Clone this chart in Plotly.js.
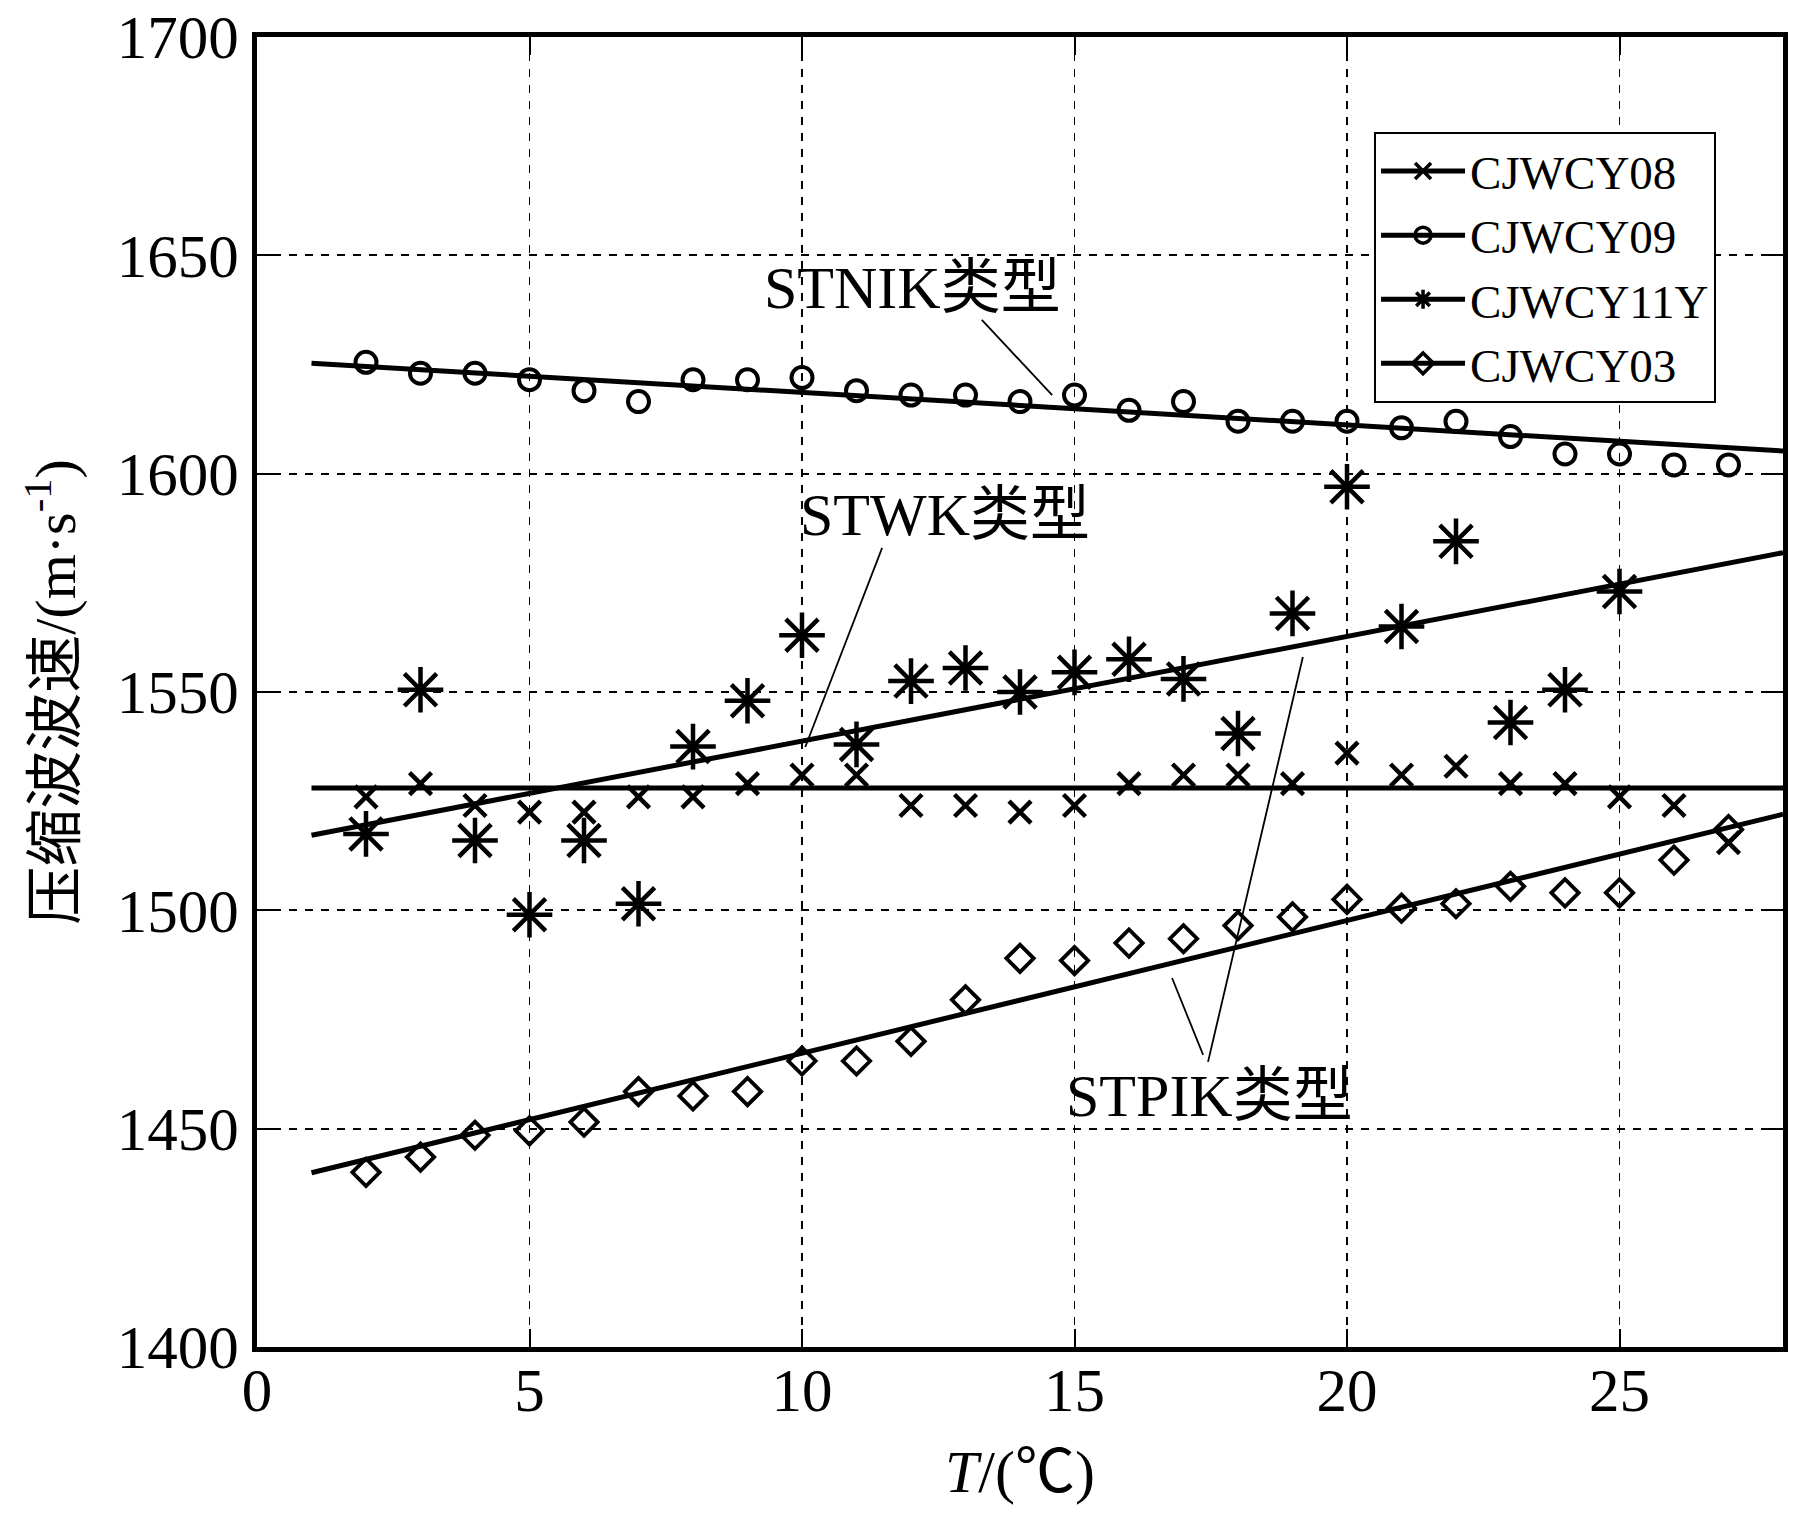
<!DOCTYPE html>
<html>
<head>
<meta charset="utf-8">
<script src="https://cdn.plot.ly/plotly-3.0.1.min.js"></script>
<style>html,body{margin:0;padding:0;background:#fff;}</style>
</head>
<body>
<div id="chart" style="width:1814px;height:1529px;"></div>
<script>
// ---- data ----
const temps08 = [2,3,4,5,6,7,8,9,10,11,12,13,14,15,16,17,18,19,20,21,22,23,24,25,26,27];
const cjwcy08 = [1526,1529,1524,1522.5,1522.5,1526,1526,1529,1531,1531,1524,1524,1522.5,1524,1529,1531,1531,1529,1536,1531,1533,1529,1529,1526,1524,1515.5];

const temps09 = [2,3,4,5,6,7,8,9,10,11,12,13,14,15,16,17,18,19,20,21,22,23,24,25,26,27];
const cjwcy09 = [1625.5,1623,1623,1621.5,1619,1616.5,1621.5,1621.5,1622,1619,1618,1618,1616.5,1618,1614.5,1616.5,1612,1612,1612,1610.5,1612,1608.5,1604.5,1604.5,1602,1602];

const temps11 = [2,3,4,5,6,7,8,9,10,11,12,13,14,15,16,17,18,19,20,21,22,23,24,25];
const cjwcy11y = [1517.5,1550.5,1516,1499,1516,1501.5,1537.5,1548,1563,1538,1552.5,1555.5,1550,1554.5,1557.5,1553,1540.5,1568,1597,1565,1584.5,1543,1550.5,1573];

const temps03 = [2,3,4,5,6,7,8,9,10,11,12,13,14,15,16,17,18,19,20,21,22,23,24,25,26,27];
const cjwcy03 = [1440,1443.5,1448.5,1449.5,1451.5,1458.5,1457.5,1458.5,1465.5,1465.5,1470,1479.5,1489,1488.5,1492.5,1493.5,1496.5,1498.5,1502.5,1500.5,1501.5,1505.5,1504,1504,1511.5,1518.5];

// fitted type lines (endpoints)
const fitX = [1, 28];
const fit08 = [1528, 1528];        // horizontal line
const fitSTNIK = [1625.3, 1605.2];
const fitSTWK = [1517.2, 1581.9];
const fitSTPIK = [1439.9, 1522];

const seriesNames = ['CJWCY08','CJWCY09','CJWCY11Y','CJWCY03'];
const xTicks = [0,5,10,15,20,25];
const yTicks = [1400,1450,1500,1550,1600,1650,1700];

// annotation labels and leader lines (data coordinates)
const labelText = ['STNIK类型','STWK类型','STPIK类型'];
const labelX = [12.02, 12.62, 17.47];
const labelY = [1642.5, 1590.5, 1457.5];
const leaderX0 = [13.30, 11.47, 16.79, 17.45];
const leaderY0 = [1635.2, 1583.0, 1484.5, 1465.3];
const leaderX1 = [14.59, 10.06, 17.36, 19.19];
const leaderY1 = [1618.0, 1537.4, 1466.9, 1558.0];

// ---- styles ----
const FONT = '"Liberation Serif", "Times New Roman", "Noto Sans CJK SC", serif';
const symbols = ['x-thin-open','circle-open','asterisk-open','diamond-open'];
const sizes = [22, 21, 38, 21];
const mlw = [4.5, 4, 4.5, 3.8];

function markerTrace(x, y, i) {
  return {
    x: x, y: y, type: 'scatter', mode: 'markers', showlegend: false,
    marker: {symbol: symbols[i], size: sizes[i], color: '#000', line: {color: '#000', width: mlw[i]}},
    cliponaxis: false, hoverinfo: 'x+y'
  };
}
function fitTrace(y) {
  return {x: fitX, y: y, type: 'scatter', mode: 'lines', showlegend: false,
    line: {color: '#000', width: 5}, hoverinfo: 'skip'};
}
function legendTrace(i) {
  return {x: [null], y: [null], type: 'scatter', mode: 'lines+markers', name: seriesNames[i],
    line: {color: '#000', width: 5},
    marker: {symbol: symbols[i], size: Math.min(sizes[i], 22) * 0.9, color: '#000', line: {color: '#000', width: 3.5}}};
}

const data = [
  fitTrace(fit08), fitTrace(fitSTNIK), fitTrace(fitSTWK), fitTrace(fitSTPIK),
  markerTrace(temps08, cjwcy08, 0),
  markerTrace(temps09, cjwcy09, 1),
  markerTrace(temps11, cjwcy11y, 2),
  markerTrace(temps03, cjwcy03, 3),
  legendTrace(0), legendTrace(1), legendTrace(2), legendTrace(3)
];

const annotations = labelText.map((t, i) => ({
  x: labelX[i], y: labelY[i], xref: 'x', yref: 'y', text: t, showarrow: false,
  xanchor: 'center', yanchor: 'middle', font: {family: FONT, size: 60, color: '#000'}
}));

const shapes = leaderX0.map((x0, i) => ({
  type: 'line', xref: 'x', yref: 'y', x0: x0, y0: leaderY0[i], x1: leaderX1[i], y1: leaderY1[i],
  line: {color: '#000', width: 1.8}
}));

const axisCommon = {
  showline: true, linecolor: '#000', linewidth: 5, mirror: 'ticks',
  ticks: 'inside', ticklen: 18, tickwidth: 2, tickcolor: '#000',
  showgrid: true, gridcolor: '#000', gridwidth: 1.8, griddash: '8px,8px',
  zeroline: false, tickfont: {family: FONT, size: 61, color: '#000'}
};

const layout = {
  width: 1814, height: 1529,
  margin: {l: 257, r: 31, t: 37, b: 182},
  paper_bgcolor: '#fff', plot_bgcolor: '#fff',
  font: {family: FONT, color: '#000'},
  xaxis: Object.assign({}, axisCommon, {
    range: [0, 28], tickvals: xTicks, ticktext: xTicks.map(String),
    ticklabelstandoff: -14,
    title: {text: '<i>T</i>/(℃)', font: {family: FONT, size: 60, color: '#000'}, standoff: 28}
  }),
  yaxis: Object.assign({}, axisCommon, {
    range: [1400, 1700], tickvals: yTicks, ticktext: yTicks.map(String),
    ticklabelstandoff: 1,
    title: {text: '压缩波波速/(m·s<sup>-1</sup>)', font: {family: FONT, size: 58, color: '#000'}, standoff: 24}
  }),
  legend: {
    x: 0.732, y: 0.9275, xanchor: 'left', yanchor: 'top',
    bgcolor: '#fff', bordercolor: '#000', borderwidth: 2,
    font: {family: FONT, size: 47, color: '#000'},
    itemwidth: 84, tracegroupgap: 0
  },
  annotations: annotations,
  shapes: shapes,
  showlegend: true
};

Plotly.newPlot('chart', data, layout, {staticPlot: true, displayModeBar: false});
</script>
</body>
</html>
